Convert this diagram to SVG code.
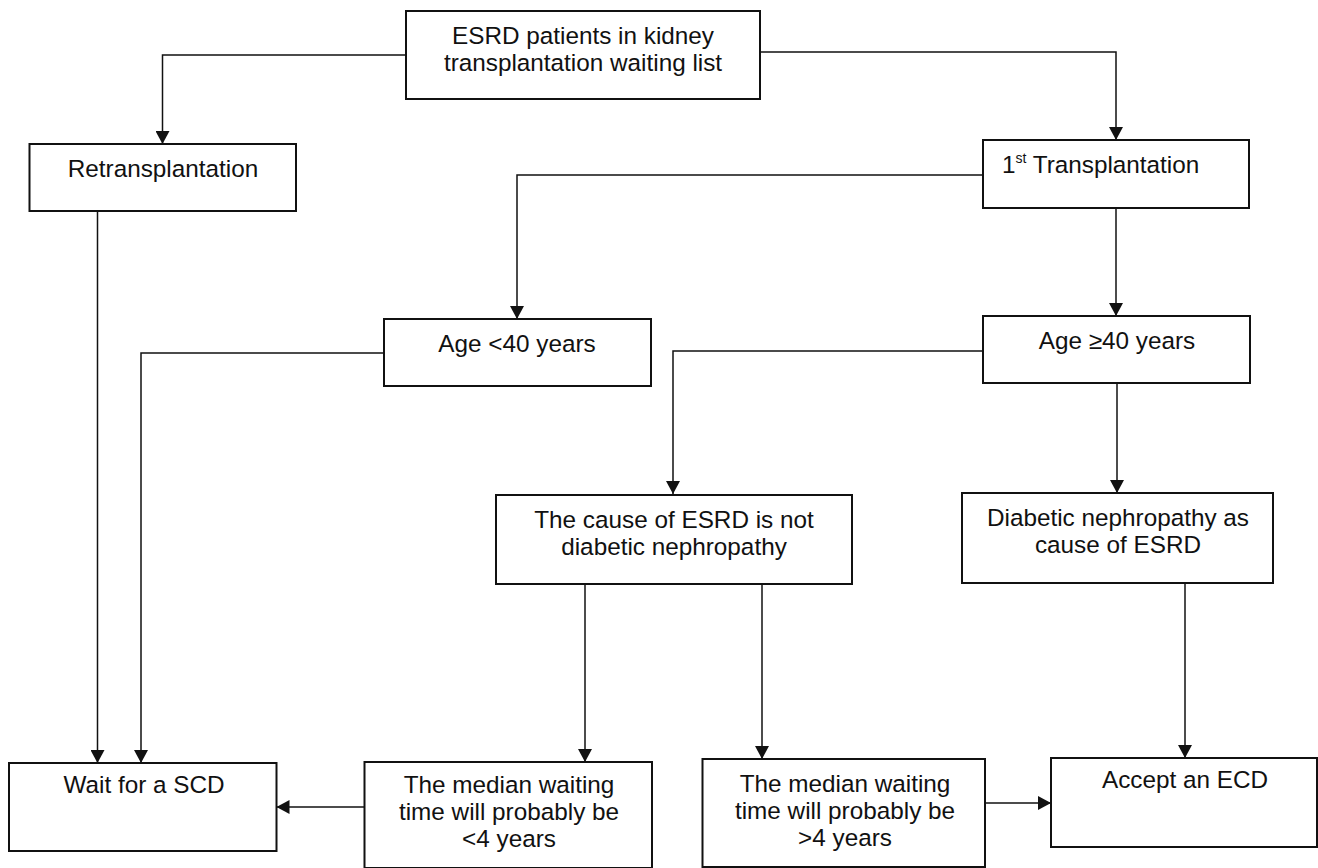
<svg xmlns="http://www.w3.org/2000/svg" width="1318" height="868" viewBox="0 0 1318 868">
<style>
.box{fill:#fff;stroke:#111;stroke-width:2}
.con{fill:none;stroke:#111;stroke-width:1.5}
.t{font-family:"Liberation Sans",Arial,sans-serif;font-size:24.3px;fill:#111;text-anchor:middle}
.ts{font-family:"Liberation Sans",Arial,sans-serif;font-size:24.3px;fill:#111;text-anchor:start}
</style>
<defs>
<marker id="ah" markerUnits="userSpaceOnUse" markerWidth="14" markerHeight="14" refX="13" refY="7" orient="auto">
<path d="M0,0 L13,7 L0,14 z" fill="#111"/>
</marker>
</defs>
<rect width="1318" height="868" fill="#fff"/>
<g id="connectors">
<path class="con" d="M406,55 H162.5 V144" marker-end="url(#ah)"/>
<path class="con" d="M760,52 H1116 V140" marker-end="url(#ah)"/>
<path class="con" d="M983,175 H517 V319" marker-end="url(#ah)"/>
<path class="con" d="M1116,208 V316" marker-end="url(#ah)"/>
<path class="con" d="M97.5,211 V763" marker-end="url(#ah)"/>
<path class="con" d="M384,353 H141 V763" marker-end="url(#ah)"/>
<path class="con" d="M983,351 H673 V494" marker-end="url(#ah)"/>
<path class="con" d="M1117,383 V493" marker-end="url(#ah)"/>
<path class="con" d="M585,584 V762" marker-end="url(#ah)"/>
<path class="con" d="M762,584 V759" marker-end="url(#ah)"/>
<path class="con" d="M1185,583 V758" marker-end="url(#ah)"/>
<path class="con" d="M364.5,807 H276.5" marker-end="url(#ah)"/>
<path class="con" d="M985,803 H1051" marker-end="url(#ah)"/>
</g>
<g id="n_top">
<rect class="box" x="406" y="11" width="354" height="88"/>
<text class="t" x="583" y="44">ESRD patients in kidney</text>
<text class="t" x="583" y="71">transplantation waiting list</text>
</g>
<g id="n_retrans">
<rect class="box" x="29.5" y="144" width="266.5" height="67"/>
<text class="t" x="163" y="177">Retransplantation</text>
</g>
<g id="n_first">
<rect class="box" x="983" y="140" width="266" height="68"/>
<text class="ts" x="1002" y="173">1<tspan font-size="14" dy="-10">st</tspan><tspan dy="10"> Transplantation</tspan></text>
</g>
<g id="n_age_lt">
<rect class="box" x="384" y="319" width="267" height="67"/>
<text class="t" x="517" y="352">Age &lt;40 years</text>
</g>
<g id="n_age_ge">
<rect class="box" x="983" y="316" width="267" height="67"/>
<text class="t" x="1117" y="349">Age ≥40 years</text>
</g>
<g id="n_cause">
<rect class="box" x="496" y="495" width="356" height="89"/>
<text class="t" x="674" y="528">The cause of ESRD is not</text>
<text class="t" x="674" y="555">diabetic nephropathy</text>
</g>
<g id="n_diabetic">
<rect class="box" x="962" y="493" width="311" height="90"/>
<text class="t" x="1118" y="526">Diabetic nephropathy as</text>
<text class="t" x="1118" y="553">cause of ESRD</text>
</g>
<g id="n_wait">
<rect class="box" x="9" y="763" width="267.5" height="88"/>
<text class="t" x="144" y="793">Wait for a SCD</text>
</g>
<g id="n_med_lt">
<rect class="box" x="364.5" y="762" width="287.5" height="106"/>
<text class="t" x="509" y="793">The median waiting</text>
<text class="t" x="509" y="820">time will probably be</text>
<text class="t" x="509" y="847">&lt;4 years</text>
</g>
<g id="n_med_gt">
<rect class="box" x="702.5" y="759" width="282.5" height="108"/>
<text class="t" x="845" y="792">The median waiting</text>
<text class="t" x="845" y="819">time will probably be</text>
<text class="t" x="845" y="846">&gt;4 years</text>
</g>
<g id="n_accept">
<rect class="box" x="1051" y="758" width="266" height="89"/>
<text class="t" x="1185" y="788">Accept an ECD</text>
</g>
</svg>
